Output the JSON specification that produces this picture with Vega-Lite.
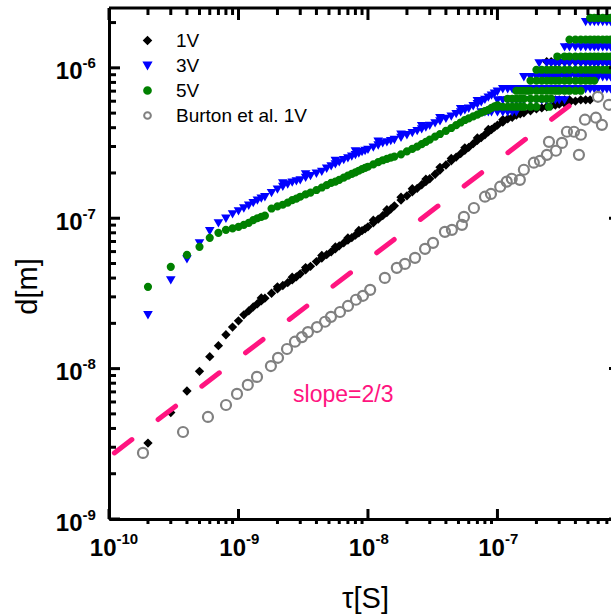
{
  "$schema": "https://vega.github.io/schema/vega-lite/v6.json",
  "width": 512,
  "height": 511,
  "autosize": {"type": "none"},
  "padding": {"left": 109, "top": 8, "right": -10, "bottom": 96},
  "background": "white",
  "config": {"view": {"stroke": null}, "font": "Liberation Sans"},
  "datasets": {
    "xmaj": [{"t":1e-10},{"t":1e-9},{"t":1e-8},{"t":1e-7}],
    "xmin": [{"t":2e-10},{"t":3e-10},{"t":4e-10},{"t":5e-10},{"t":6e-10},{"t":7e-10},{"t":8e-10},{"t":9e-10},
             {"t":2e-9},{"t":3e-9},{"t":4e-9},{"t":5e-9},{"t":6e-9},{"t":7e-9},{"t":8e-9},{"t":9e-9},
             {"t":2e-8},{"t":3e-8},{"t":4e-8},{"t":5e-8},{"t":6e-8},{"t":7e-8},{"t":8e-8},{"t":9e-8},
             {"t":2e-7},{"t":3e-7},{"t":4e-7},{"t":5e-7},{"t":6e-7},{"t":7e-7},{"t":8e-7}],
    "ymaj": [{"d":1e-9},{"d":1e-8},{"d":1e-7},{"d":1e-6}],
    "ymin": [{"d":2e-9},{"d":3e-9},{"d":4e-9},{"d":5e-9},{"d":6e-9},{"d":7e-9},{"d":8e-9},{"d":9e-9},
             {"d":2e-8},{"d":3e-8},{"d":4e-8},{"d":5e-8},{"d":6e-8},{"d":7e-8},{"d":8e-8},{"d":9e-8},
             {"d":2e-7},{"d":3e-7},{"d":4e-7},{"d":5e-7},{"d":6e-7},{"d":7e-7},{"d":8e-7},{"d":9e-7},{"d":2e-6}],
    "frame": [{"t":1e-10},{"t":9e-7}],
    "runs": [
      {"s":"1V","t":2e-10,"d":3.2e-9},{"s":"1V","t":3e-10,"d":5.1e-9},{"s":"1V","t":4e-10,"d":7.1e-9},{"s":"1V","t":5e-10,"d":9.6e-9},
      {"s":"1V","t":6e-10,"d":1.2e-8},{"s":"1V","t":7e-10,"d":1.42e-8},{"s":"1V","t":8e-10,"d":1.68e-8},{"s":"1V","t":9e-10,"d":1.89e-8},
      {"s":"1V","t":1e-9,"d":2.08e-8},{"s":"1V","t":1.1e-9,"d":2.28e-8},{"s":"1V","t":1.2e-9,"d":2.42e-8},
      {"s":"1V","t":1.3e-9,"d":2.57e-8},{"s":"1V","t":1.4e-9,"d":2.70e-8},{"s":"1V","t":1.5e-9,"d":2.82e-8},{"s":"1V","t":1.6e-9,"d":2.94e-8},
      {"s":"1V","t":1.8e-9,"d":3.17e-8},{"s":"1V","t":2.0e-9,"d":3.39e-8},{"s":"1V","t":2.2e-9,"d":3.57e-8},{"s":"1V","t":2.4e-9,"d":3.73e-8},
      {"s":"1V","t":2.6e-9,"d":3.89e-8},{"s":"1V","t":2.8e-9,"d":4.08e-8},{"s":"1V","t":3.0e-9,"d":4.27e-8},{"s":"1V","t":3.3e-9,"d":4.54e-8},
      {"s":"1V","t":3.6e-9,"d":4.79e-8},{"s":"1V","t":4.0e-9,"d":5.15e-8},{"s":"1V","t":4.4e-9,"d":5.44e-8},{"s":"1V","t":4.8e-9,"d":5.72e-8},
      {"s":"1V","t":5.2e-9,"d":5.98e-8},{"s":"1V","t":5.6e-9,"d":6.26e-8},{"s":"1V","t":6.0e-9,"d":6.55e-8},{"s":"1V","t":6.5e-9,"d":6.86e-8},
      {"s":"1V","t":7.0e-9,"d":7.15e-8},{"s":"1V","t":7.5e-9,"d":7.43e-8},{"s":"1V","t":8.0e-9,"d":7.72e-8},{"s":"1V","t":8.5e-9,"d":8.00e-8},
      {"s":"1V","t":9.0e-9,"d":8.26e-8},{"s":"1V","t":9.5e-9,"d":8.50e-8},{"s":"1V","t":1.0e-8,"d":8.77e-8},{"s":"1V","t":1.1e-8,"d":9.32e-8},
      {"s":"1V","t":1.2e-8,"d":9.86e-8},{"s":"1V","t":1.3e-8,"d":1.04e-7},{"s":"1V","t":1.4e-8,"d":1.09e-7},{"s":"1V","t":1.5e-8,"d":1.15e-7},
      {"s":"1V","t":1.6e-8,"d":1.21e-7},{"s":"1V","t":1.8e-8,"d":1.32e-7},{"s":"1V","t":2.0e-8,"d":1.41e-7},{"s":"1V","t":2.2e-8,"d":1.50e-7},
      {"s":"1V","t":2.4e-8,"d":1.58e-7},{"s":"1V","t":2.6e-8,"d":1.67e-7},{"s":"1V","t":2.8e-8,"d":1.75e-7},{"s":"1V","t":3.0e-8,"d":1.83e-7},
      {"s":"1V","t":3.3e-8,"d":1.96e-7},{"s":"1V","t":3.6e-8,"d":2.09e-7},{"s":"1V","t":4.0e-8,"d":2.26e-7},{"s":"1V","t":4.4e-8,"d":2.41e-7},
      {"s":"1V","t":4.8e-8,"d":2.55e-7},{"s":"1V","t":5.2e-8,"d":2.69e-7},{"s":"1V","t":5.6e-8,"d":2.83e-7},{"s":"1V","t":6.0e-8,"d":2.96e-7},
      {"s":"1V","t":6.5e-8,"d":3.13e-7},{"s":"1V","t":7.0e-8,"d":3.29e-7},{"s":"1V","t":7.5e-8,"d":3.44e-7},{"s":"1V","t":8.0e-8,"d":3.59e-7},
      {"s":"1V","t":8.5e-8,"d":3.75e-7},{"s":"1V","t":9.0e-8,"d":3.89e-7},{"s":"1V","t":9.5e-8,"d":4.03e-7},{"s":"1V","t":1.0e-7,"d":4.16e-7},
      {"s":"1V","t":1.1e-7,"d":4.36e-7},{"s":"1V","t":1.2e-7,"d":4.58e-7},{"s":"1V","t":1.3e-7,"d":4.69e-7},{"s":"1V","t":1.4e-7,"d":4.85e-7},
      {"s":"1V","t":1.5e-7,"d":4.95e-7},{"s":"1V","t":1.6e-7,"d":5.03e-7},{"s":"1V","t":1.8e-7,"d":5.18e-7},{"s":"1V","t":2.0e-7,"d":5.33e-7},
      {"s":"1V","t":2.2e-7,"d":5.41e-7},{"s":"1V","t":2.4e-7,"d":5.51e-7},{"s":"1V","t":2.6e-7,"d":5.58e-7},{"s":"1V","t":2.8e-7,"d":5.66e-7},
      {"s":"1V","t":3.0e-7,"d":5.73e-7},{"s":"1V","t":3.3e-7,"d":5.81e-7},{"s":"1V","t":3.6e-7,"d":5.89e-7},{"s":"1V","t":4.0e-7,"d":6.01e-7},
      {"s":"1V","t":4.4e-7,"d":6.13e-7},
      {"s":"1V","t":1.5e-9,"d":2.95e-8},{"s":"1V","t":2.0e-9,"d":3.50e-8},{"s":"1V","t":2.6e-9,"d":4.05e-8},{"s":"1V","t":3.3e-9,"d":4.70e-8},
      {"s":"1V","t":4.4e-9,"d":5.65e-8},{"s":"1V","t":5.6e-9,"d":6.45e-8},{"s":"1V","t":7.0e-9,"d":7.40e-8},{"s":"1V","t":8.5e-9,"d":8.30e-8},
      {"s":"1V","t":1.1e-8,"d":9.70e-8},{"s":"1V","t":1.4e-8,"d":1.14e-7},{"s":"1V","t":1.8e-8,"d":1.38e-7},{"s":"1V","t":2.2e-8,"d":1.57e-7},
      {"s":"1V","t":2.8e-8,"d":1.82e-7},{"s":"1V","t":3.6e-8,"d":2.18e-7},{"s":"1V","t":4.4e-8,"d":2.50e-7},{"s":"1V","t":5.6e-8,"d":2.94e-7},
      {"s":"1V","t":7.0e-8,"d":3.42e-7},{"s":"1V","t":8.5e-8,"d":3.90e-7},{"s":"1V","t":1.1e-7,"d":4.52e-7},{"s":"1V","t":1.4e-7,"d":5.02e-7},
      {"s":"1V","t":2.4e-7,"d":1.1e-6},{"s":"1V","t":2.6e-7,"d":1.1e-6},{"s":"1V","t":2.8e-7,"d":1.1e-6},{"s":"1V","t":3.0e-7,"d":1.1e-6},
      {"s":"1V","t":3.3e-7,"d":1.1e-6},{"s":"1V","t":3.6e-7,"d":1.1e-6},{"s":"1V","t":4.0e-7,"d":1.1e-6},{"s":"1V","t":4.4e-7,"d":1.1e-6},
      {"s":"1V","t":4.8e-7,"d":1.1e-6},{"s":"1V","t":5.2e-7,"d":1.1e-6},{"s":"1V","t":5.6e-7,"d":1.1e-6},{"s":"1V","t":6.0e-7,"d":1.1e-6},
      {"s":"1V","t":6.5e-7,"d":1.1e-6},{"s":"1V","t":7.0e-7,"d":1.1e-6},{"s":"1V","t":7.5e-7,"d":1.1e-6},{"s":"1V","t":8.0e-7,"d":1.1e-6},
      {"s":"1V","t":8.5e-7,"d":1.1e-6},{"s":"1V","t":9.0e-7,"d":1.1e-6},
      {"s":"1V","t":2.4e-7,"d":9.13e-7},{"s":"1V","t":2.6e-7,"d":9.13e-7},{"s":"1V","t":2.8e-7,"d":9.13e-7},{"s":"1V","t":3.0e-7,"d":9.13e-7},
      {"s":"1V","t":3.3e-7,"d":9.13e-7},{"s":"1V","t":3.6e-7,"d":9.13e-7},{"s":"1V","t":4.0e-7,"d":9.13e-7},{"s":"1V","t":4.4e-7,"d":9.13e-7},
      {"s":"1V","t":4.8e-7,"d":9.13e-7},{"s":"1V","t":5.2e-7,"d":9.13e-7},{"s":"1V","t":5.6e-7,"d":9.13e-7},{"s":"1V","t":6.0e-7,"d":9.13e-7},
      {"s":"1V","t":6.5e-7,"d":9.13e-7},{"s":"1V","t":7.0e-7,"d":9.13e-7},{"s":"1V","t":7.5e-7,"d":9.13e-7},{"s":"1V","t":8.0e-7,"d":9.13e-7},
      {"s":"1V","t":8.5e-7,"d":9.13e-7},{"s":"1V","t":9.0e-7,"d":9.13e-7},
      {"s":"1V","t":2.8e-7,"d":6.13e-7},{"s":"1V","t":3.0e-7,"d":6.13e-7},{"s":"1V","t":3.3e-7,"d":6.13e-7},{"s":"1V","t":3.6e-7,"d":6.13e-7},
      {"s":"1V","t":4.8e-7,"d":6.13e-7},{"s":"1V","t":5.2e-7,"d":6.13e-7},

      {"s":"3V","t":2e-10,"d":2.28e-8},{"s":"3V","t":3e-10,"d":3.89e-8},{"s":"3V","t":4e-10,"d":5.37e-8},{"s":"3V","t":5e-10,"d":6.86e-8},
      {"s":"3V","t":6e-10,"d":8.25e-8},{"s":"3V","t":7e-10,"d":9.32e-8},{"s":"3V","t":8e-10,"d":1.0e-7},{"s":"3V","t":9e-10,"d":1.07e-7},
      {"s":"3V","t":1e-9,"d":1.12e-7},{"s":"3V","t":1.1e-9,"d":1.17e-7},{"s":"3V","t":1.2e-9,"d":1.22e-7},
      {"s":"3V","t":1.3e-9,"d":1.27e-7},{"s":"3V","t":1.4e-9,"d":1.32e-7},{"s":"3V","t":1.5e-9,"d":1.36e-7},{"s":"3V","t":1.6e-9,"d":1.39e-7},
      {"s":"3V","t":1.8e-9,"d":1.48e-7},{"s":"3V","t":2.0e-9,"d":1.56e-7},{"s":"3V","t":2.2e-9,"d":1.63e-7},{"s":"3V","t":2.4e-9,"d":1.69e-7},
      {"s":"3V","t":2.6e-9,"d":1.74e-7},{"s":"3V","t":2.8e-9,"d":1.77e-7},{"s":"3V","t":3.0e-9,"d":1.80e-7},{"s":"3V","t":3.3e-9,"d":1.87e-7},
      {"s":"3V","t":3.6e-9,"d":1.92e-7},{"s":"3V","t":4.0e-9,"d":1.99e-7},{"s":"3V","t":4.4e-9,"d":2.05e-7},{"s":"3V","t":4.8e-9,"d":2.15e-7},
      {"s":"3V","t":5.2e-9,"d":2.23e-7},{"s":"3V","t":5.6e-9,"d":2.30e-7},{"s":"3V","t":6.0e-9,"d":2.37e-7},{"s":"3V","t":6.5e-9,"d":2.45e-7},
      {"s":"3V","t":7.0e-9,"d":2.52e-7},{"s":"3V","t":7.5e-9,"d":2.59e-7},{"s":"3V","t":8.0e-9,"d":2.65e-7},{"s":"3V","t":8.5e-9,"d":2.71e-7},
      {"s":"3V","t":9.0e-9,"d":2.77e-7},{"s":"3V","t":9.5e-9,"d":2.82e-7},{"s":"3V","t":1.0e-8,"d":2.87e-7},{"s":"3V","t":1.1e-8,"d":2.97e-7},
      {"s":"3V","t":1.2e-8,"d":3.07e-7},{"s":"3V","t":1.3e-8,"d":3.17e-7},{"s":"3V","t":1.4e-8,"d":3.22e-7},{"s":"3V","t":1.5e-8,"d":3.28e-7},
      {"s":"3V","t":1.6e-8,"d":3.34e-7},{"s":"3V","t":1.8e-8,"d":3.45e-7},{"s":"3V","t":2.0e-8,"d":3.59e-7},{"s":"3V","t":2.2e-8,"d":3.71e-7},
      {"s":"3V","t":2.4e-8,"d":3.82e-7},{"s":"3V","t":2.6e-8,"d":3.93e-7},{"s":"3V","t":2.8e-8,"d":4.04e-7},{"s":"3V","t":3.0e-8,"d":4.14e-7},
      {"s":"3V","t":3.3e-8,"d":4.31e-7},{"s":"3V","t":3.6e-8,"d":4.44e-7},{"s":"3V","t":4.0e-8,"d":4.61e-7},{"s":"3V","t":4.4e-8,"d":4.77e-7},
      {"s":"3V","t":4.8e-8,"d":4.96e-7},{"s":"3V","t":5.2e-8,"d":5.10e-7},{"s":"3V","t":5.6e-8,"d":5.26e-7},{"s":"3V","t":6.0e-8,"d":5.39e-7},
      {"s":"3V","t":6.5e-8,"d":5.60e-7},{"s":"3V","t":7.0e-8,"d":5.77e-7},{"s":"3V","t":7.5e-8,"d":5.95e-7},{"s":"3V","t":8.0e-8,"d":6.17e-7},
      {"s":"3V","t":8.5e-8,"d":6.38e-7},{"s":"3V","t":9.0e-8,"d":6.58e-7},{"s":"3V","t":9.5e-8,"d":6.78e-7},{"s":"3V","t":1.0e-7,"d":6.99e-7},
      {"s":"3V","t":2.2e-9,"d":1.72e-7},{"s":"3V","t":3.3e-9,"d":1.97e-7},{"s":"3V","t":5.6e-9,"d":2.42e-7},{"s":"3V","t":8.0e-9,"d":2.80e-7},
      {"s":"3V","t":1.2e-8,"d":3.25e-7},{"s":"3V","t":1.8e-8,"d":3.62e-7},{"s":"3V","t":2.6e-8,"d":4.12e-7},{"s":"3V","t":3.6e-8,"d":4.66e-7},
      {"s":"3V","t":5.2e-8,"d":5.35e-7},{"s":"3V","t":7.0e-8,"d":6.05e-7},
      {"s":"3V","t":4.8e-7,"d":2.03e-6},{"s":"3V","t":5.2e-7,"d":2.03e-6},{"s":"3V","t":5.6e-7,"d":2.03e-6},{"s":"3V","t":6.0e-7,"d":2.03e-6},
      {"s":"3V","t":6.5e-7,"d":2.03e-6},{"s":"3V","t":7.0e-7,"d":2.03e-6},{"s":"3V","t":7.5e-7,"d":2.03e-6},{"s":"3V","t":8.0e-7,"d":2.03e-6},
      {"s":"3V","t":8.5e-7,"d":2.03e-6},{"s":"3V","t":9.0e-7,"d":2.03e-6},
      {"s":"3V","t":3.3e-7,"d":1.38e-6},{"s":"3V","t":3.6e-7,"d":1.38e-6},{"s":"3V","t":4.0e-7,"d":1.38e-6},{"s":"3V","t":4.4e-7,"d":1.38e-6},
      {"s":"3V","t":4.8e-7,"d":1.38e-6},{"s":"3V","t":5.2e-7,"d":1.38e-6},{"s":"3V","t":5.6e-7,"d":1.38e-6},{"s":"3V","t":6.0e-7,"d":1.38e-6},
      {"s":"3V","t":6.5e-7,"d":1.38e-6},{"s":"3V","t":7.0e-7,"d":1.38e-6},{"s":"3V","t":7.5e-7,"d":1.38e-6},{"s":"3V","t":8.0e-7,"d":1.38e-6},
      {"s":"3V","t":8.5e-7,"d":1.38e-6},{"s":"3V","t":9.0e-7,"d":1.38e-6},
      {"s":"3V","t":2.1e-7,"d":1.08e-6},{"s":"3V","t":2.4e-7,"d":1.08e-6},{"s":"3V","t":2.6e-7,"d":1.08e-6},{"s":"3V","t":2.8e-7,"d":1.08e-6},
      {"s":"3V","t":3.0e-7,"d":1.08e-6},{"s":"3V","t":3.3e-7,"d":1.08e-6},{"s":"3V","t":3.6e-7,"d":1.08e-6},{"s":"3V","t":4.0e-7,"d":1.08e-6},
      {"s":"3V","t":4.4e-7,"d":1.08e-6},{"s":"3V","t":4.8e-7,"d":1.08e-6},{"s":"3V","t":5.2e-7,"d":1.08e-6},{"s":"3V","t":5.6e-7,"d":1.08e-6},
      {"s":"3V","t":6.0e-7,"d":1.08e-6},{"s":"3V","t":6.5e-7,"d":1.08e-6},{"s":"3V","t":7.0e-7,"d":1.08e-6},{"s":"3V","t":7.5e-7,"d":1.08e-6},
      {"s":"3V","t":8.0e-7,"d":1.08e-6},{"s":"3V","t":8.5e-7,"d":1.08e-6},{"s":"3V","t":9.0e-7,"d":1.08e-6},
      {"s":"3V","t":1.6e-7,"d":8.73e-7},{"s":"3V","t":1.8e-7,"d":8.73e-7},{"s":"3V","t":2.0e-7,"d":8.73e-7},{"s":"3V","t":2.2e-7,"d":8.73e-7},
      {"s":"3V","t":2.4e-7,"d":8.73e-7},{"s":"3V","t":2.6e-7,"d":8.73e-7},{"s":"3V","t":2.8e-7,"d":8.73e-7},{"s":"3V","t":3.0e-7,"d":8.73e-7},
      {"s":"3V","t":3.3e-7,"d":8.73e-7},{"s":"3V","t":3.6e-7,"d":8.73e-7},{"s":"3V","t":4.0e-7,"d":8.73e-7},{"s":"3V","t":4.4e-7,"d":8.73e-7},
      {"s":"3V","t":4.8e-7,"d":8.73e-7},{"s":"3V","t":5.2e-7,"d":8.73e-7},{"s":"3V","t":5.6e-7,"d":8.73e-7},{"s":"3V","t":6.0e-7,"d":8.73e-7},
      {"s":"3V","t":6.5e-7,"d":8.73e-7},{"s":"3V","t":7.0e-7,"d":8.73e-7},{"s":"3V","t":7.5e-7,"d":8.73e-7},{"s":"3V","t":8.0e-7,"d":8.73e-7},
      {"s":"3V","t":8.5e-7,"d":8.73e-7},{"s":"3V","t":9.0e-7,"d":8.73e-7},
      {"s":"3V","t":1.1e-7,"d":7.26e-7},{"s":"3V","t":1.2e-7,"d":7.26e-7},{"s":"3V","t":1.3e-7,"d":7.26e-7},{"s":"3V","t":1.4e-7,"d":7.26e-7},
      {"s":"3V","t":1.5e-7,"d":7.26e-7},{"s":"3V","t":1.6e-7,"d":7.26e-7},{"s":"3V","t":1.8e-7,"d":7.26e-7},{"s":"3V","t":2.0e-7,"d":7.26e-7},
      {"s":"3V","t":2.2e-7,"d":7.26e-7},{"s":"3V","t":2.4e-7,"d":7.26e-7},{"s":"3V","t":2.6e-7,"d":7.26e-7},{"s":"3V","t":2.8e-7,"d":7.26e-7},
      {"s":"3V","t":3.0e-7,"d":7.26e-7},{"s":"3V","t":3.3e-7,"d":7.26e-7},{"s":"3V","t":3.6e-7,"d":7.26e-7},{"s":"3V","t":4.0e-7,"d":7.26e-7},
      {"s":"3V","t":4.4e-7,"d":7.26e-7},{"s":"3V","t":4.8e-7,"d":7.26e-7},{"s":"3V","t":5.2e-7,"d":7.26e-7},{"s":"3V","t":5.6e-7,"d":7.26e-7},
      {"s":"3V","t":6.0e-7,"d":7.26e-7},{"s":"3V","t":6.5e-7,"d":7.26e-7},{"s":"3V","t":7.0e-7,"d":7.26e-7},{"s":"3V","t":7.5e-7,"d":7.26e-7},
      {"s":"3V","t":8.0e-7,"d":7.26e-7},{"s":"3V","t":8.5e-7,"d":7.26e-7},{"s":"3V","t":9.0e-7,"d":7.26e-7},
      {"s":"3V","t":1.0e-7,"d":6.13e-7},{"s":"3V","t":1.1e-7,"d":6.13e-7},{"s":"3V","t":1.2e-7,"d":6.13e-7},{"s":"3V","t":1.3e-7,"d":6.13e-7},
      {"s":"3V","t":1.4e-7,"d":6.13e-7},{"s":"3V","t":1.5e-7,"d":6.13e-7},{"s":"3V","t":1.6e-7,"d":6.13e-7},{"s":"3V","t":1.8e-7,"d":6.13e-7},
      {"s":"3V","t":2.0e-7,"d":6.13e-7},{"s":"3V","t":2.2e-7,"d":6.13e-7},{"s":"3V","t":2.4e-7,"d":6.13e-7},{"s":"3V","t":2.6e-7,"d":6.13e-7},
      {"s":"3V","t":2.8e-7,"d":6.13e-7},{"s":"3V","t":3.0e-7,"d":6.13e-7},{"s":"3V","t":3.3e-7,"d":6.13e-7},
      {"s":"3V","t":7.5e-8,"d":5.1e-7},{"s":"3V","t":8.0e-8,"d":5.1e-7},{"s":"3V","t":8.5e-8,"d":5.1e-7},{"s":"3V","t":9.0e-8,"d":5.1e-7},
      {"s":"3V","t":1.0e-7,"d":5.1e-7},{"s":"3V","t":1.1e-7,"d":5.1e-7},{"s":"3V","t":1.2e-7,"d":5.1e-7},{"s":"3V","t":1.3e-7,"d":5.1e-7},
      {"s":"3V","t":1.4e-7,"d":5.1e-7},

      {"s":"5V","t":2e-10,"d":3.5e-8},{"s":"5V","t":3e-10,"d":4.75e-8},{"s":"5V","t":4e-10,"d":5.71e-8},{"s":"5V","t":5e-10,"d":6.45e-8},
      {"s":"5V","t":6e-10,"d":7.41e-8},{"s":"5V","t":7e-10,"d":8.0e-8},{"s":"5V","t":8e-10,"d":8.37e-8},{"s":"5V","t":9e-10,"d":8.57e-8},
      {"s":"5V","t":1e-9,"d":8.77e-8},{"s":"5V","t":1.1e-9,"d":9.04e-8},{"s":"5V","t":1.2e-9,"d":9.32e-8},
      {"s":"5V","t":1.3e-9,"d":9.71e-8},{"s":"5V","t":1.4e-9,"d":1.0e-7},{"s":"5V","t":1.5e-9,"d":1.02e-7},{"s":"5V","t":1.6e-9,"d":1.04e-7},
      {"s":"5V","t":1.8e-9,"d":1.16e-7},{"s":"5V","t":2.0e-9,"d":1.20e-7},{"s":"5V","t":2.2e-9,"d":1.23e-7},{"s":"5V","t":2.4e-9,"d":1.27e-7},
      {"s":"5V","t":2.6e-9,"d":1.32e-7},{"s":"5V","t":2.8e-9,"d":1.35e-7},{"s":"5V","t":3.0e-9,"d":1.39e-7},{"s":"5V","t":3.3e-9,"d":1.44e-7},
      {"s":"5V","t":3.6e-9,"d":1.48e-7},{"s":"5V","t":4.0e-9,"d":1.54e-7},{"s":"5V","t":4.4e-9,"d":1.60e-7},{"s":"5V","t":4.8e-9,"d":1.66e-7},
      {"s":"5V","t":5.2e-9,"d":1.72e-7},{"s":"5V","t":5.6e-9,"d":1.75e-7},{"s":"5V","t":6.0e-9,"d":1.80e-7},{"s":"5V","t":6.5e-9,"d":1.86e-7},
      {"s":"5V","t":7.0e-9,"d":1.92e-7},{"s":"5V","t":7.5e-9,"d":1.97e-7},{"s":"5V","t":8.0e-9,"d":2.02e-7},{"s":"5V","t":8.5e-9,"d":2.07e-7},
      {"s":"5V","t":9.0e-9,"d":2.12e-7},{"s":"5V","t":9.5e-9,"d":2.16e-7},{"s":"5V","t":1.0e-8,"d":2.20e-7},{"s":"5V","t":1.1e-8,"d":2.28e-7},
      {"s":"5V","t":1.2e-8,"d":2.36e-7},{"s":"5V","t":1.3e-8,"d":2.43e-7},{"s":"5V","t":1.4e-8,"d":2.48e-7},{"s":"5V","t":1.5e-8,"d":2.53e-7},
      {"s":"5V","t":1.6e-8,"d":2.57e-7},{"s":"5V","t":1.8e-8,"d":2.66e-7},{"s":"5V","t":2.0e-8,"d":2.78e-7},{"s":"5V","t":2.2e-8,"d":2.89e-7},
      {"s":"5V","t":2.4e-8,"d":2.99e-7},{"s":"5V","t":2.6e-8,"d":3.11e-7},{"s":"5V","t":2.8e-8,"d":3.22e-7},{"s":"5V","t":3.0e-8,"d":3.33e-7},
      {"s":"5V","t":3.3e-8,"d":3.49e-7},{"s":"5V","t":3.6e-8,"d":3.63e-7},{"s":"5V","t":4.0e-8,"d":3.81e-7},{"s":"5V","t":4.4e-8,"d":3.98e-7},
      {"s":"5V","t":4.8e-8,"d":4.16e-7},{"s":"5V","t":5.2e-8,"d":4.33e-7},{"s":"5V","t":5.6e-8,"d":4.50e-7},{"s":"5V","t":6.0e-8,"d":4.61e-7},
      {"s":"5V","t":6.5e-8,"d":4.76e-7},{"s":"5V","t":7.0e-8,"d":4.89e-7},{"s":"5V","t":7.5e-8,"d":5.03e-7},{"s":"5V","t":8.0e-8,"d":5.15e-7},
      {"s":"5V","t":8.5e-8,"d":5.26e-7},{"s":"5V","t":9.0e-8,"d":5.42e-7},{"s":"5V","t":9.5e-8,"d":5.54e-7},{"s":"5V","t":1.0e-7,"d":5.64e-7},
      {"s":"5V","t":5.2e-7,"d":2.15e-6},{"s":"5V","t":5.6e-7,"d":2.15e-6},{"s":"5V","t":6.0e-7,"d":2.15e-6},{"s":"5V","t":6.5e-7,"d":2.15e-6},
      {"s":"5V","t":7.0e-7,"d":2.15e-6},{"s":"5V","t":7.5e-7,"d":2.15e-6},{"s":"5V","t":8.0e-7,"d":2.15e-6},{"s":"5V","t":8.5e-7,"d":2.15e-6},
      {"s":"5V","t":9.0e-7,"d":2.15e-6},
      {"s":"5V","t":3.6e-7,"d":1.54e-6},{"s":"5V","t":4.0e-7,"d":1.54e-6},{"s":"5V","t":4.4e-7,"d":1.54e-6},{"s":"5V","t":4.8e-7,"d":1.54e-6},
      {"s":"5V","t":5.2e-7,"d":1.54e-6},{"s":"5V","t":5.6e-7,"d":1.54e-6},{"s":"5V","t":6.0e-7,"d":1.54e-6},{"s":"5V","t":6.5e-7,"d":1.54e-6},
      {"s":"5V","t":7.0e-7,"d":1.54e-6},{"s":"5V","t":7.5e-7,"d":1.54e-6},{"s":"5V","t":8.0e-7,"d":1.54e-6},{"s":"5V","t":8.5e-7,"d":1.54e-6},
      {"s":"5V","t":9.0e-7,"d":1.54e-6},
      {"s":"5V","t":2.9e-7,"d":1.19e-6},{"s":"5V","t":3.3e-7,"d":1.19e-6},{"s":"5V","t":3.6e-7,"d":1.19e-6},{"s":"5V","t":4.0e-7,"d":1.19e-6},
      {"s":"5V","t":4.4e-7,"d":1.19e-6},{"s":"5V","t":4.8e-7,"d":1.19e-6},{"s":"5V","t":5.2e-7,"d":1.19e-6},{"s":"5V","t":5.6e-7,"d":1.19e-6},
      {"s":"5V","t":6.0e-7,"d":1.19e-6},{"s":"5V","t":6.5e-7,"d":1.19e-6},{"s":"5V","t":7.0e-7,"d":1.19e-6},{"s":"5V","t":7.5e-7,"d":1.19e-6},
      {"s":"5V","t":8.0e-7,"d":1.19e-6},{"s":"5V","t":8.5e-7,"d":1.19e-6},{"s":"5V","t":9.0e-7,"d":1.19e-6},
      {"s":"5V","t":2.0e-7,"d":9.71e-7},{"s":"5V","t":2.2e-7,"d":9.71e-7},{"s":"5V","t":2.4e-7,"d":9.71e-7},{"s":"5V","t":2.6e-7,"d":9.71e-7},
      {"s":"5V","t":2.8e-7,"d":9.71e-7},{"s":"5V","t":3.0e-7,"d":9.71e-7},{"s":"5V","t":3.3e-7,"d":9.71e-7},{"s":"5V","t":3.6e-7,"d":9.71e-7},
      {"s":"5V","t":4.0e-7,"d":9.71e-7},{"s":"5V","t":4.4e-7,"d":9.71e-7},{"s":"5V","t":4.8e-7,"d":9.71e-7},{"s":"5V","t":5.2e-7,"d":9.71e-7},
      {"s":"5V","t":5.6e-7,"d":9.71e-7},{"s":"5V","t":6.0e-7,"d":9.71e-7},{"s":"5V","t":6.5e-7,"d":9.71e-7},{"s":"5V","t":7.0e-7,"d":9.71e-7},
      {"s":"5V","t":7.5e-7,"d":9.71e-7},{"s":"5V","t":8.0e-7,"d":9.71e-7},{"s":"5V","t":8.5e-7,"d":9.71e-7},{"s":"5V","t":9.0e-7,"d":9.71e-7},
      {"s":"5V","t":1.8e-7,"d":8.21e-7},{"s":"5V","t":2.0e-7,"d":8.21e-7},{"s":"5V","t":2.2e-7,"d":8.21e-7},{"s":"5V","t":2.4e-7,"d":8.21e-7},
      {"s":"5V","t":2.6e-7,"d":8.21e-7},{"s":"5V","t":2.8e-7,"d":8.21e-7},{"s":"5V","t":3.0e-7,"d":8.21e-7},{"s":"5V","t":3.3e-7,"d":8.21e-7},
      {"s":"5V","t":3.6e-7,"d":8.21e-7},{"s":"5V","t":4.0e-7,"d":8.21e-7},{"s":"5V","t":4.4e-7,"d":8.21e-7},{"s":"5V","t":4.8e-7,"d":8.21e-7},
      {"s":"5V","t":5.2e-7,"d":8.21e-7},{"s":"5V","t":5.6e-7,"d":8.21e-7},
      {"s":"5V","t":1.4e-7,"d":7.04e-7},{"s":"5V","t":1.5e-7,"d":7.04e-7},{"s":"5V","t":1.6e-7,"d":7.04e-7},{"s":"5V","t":1.7e-7,"d":7.04e-7},
      {"s":"5V","t":1.8e-7,"d":7.04e-7},{"s":"5V","t":2.0e-7,"d":7.04e-7},{"s":"5V","t":2.2e-7,"d":7.04e-7},{"s":"5V","t":2.4e-7,"d":7.04e-7},
      {"s":"5V","t":2.6e-7,"d":7.04e-7},{"s":"5V","t":2.8e-7,"d":7.04e-7},{"s":"5V","t":3.0e-7,"d":7.04e-7},{"s":"5V","t":3.3e-7,"d":7.04e-7},
      {"s":"5V","t":3.6e-7,"d":7.04e-7},{"s":"5V","t":4.0e-7,"d":7.04e-7},{"s":"5V","t":4.4e-7,"d":7.04e-7},
      {"s":"5V","t":1.2e-7,"d":6.23e-7},{"s":"5V","t":1.3e-7,"d":6.23e-7},{"s":"5V","t":1.4e-7,"d":6.23e-7},{"s":"5V","t":1.5e-7,"d":6.23e-7},
      {"s":"5V","t":1.6e-7,"d":6.23e-7},{"s":"5V","t":1.8e-7,"d":6.23e-7},{"s":"5V","t":2.0e-7,"d":6.23e-7},{"s":"5V","t":2.2e-7,"d":6.23e-7},
      {"s":"5V","t":2.4e-7,"d":6.23e-7},{"s":"5V","t":2.6e-7,"d":6.23e-7},
      {"s":"5V","t":1.0e-7,"d":5.51e-7},{"s":"5V","t":1.1e-7,"d":5.51e-7},{"s":"5V","t":1.2e-7,"d":5.51e-7},{"s":"5V","t":1.3e-7,"d":5.51e-7},
      {"s":"5V","t":1.4e-7,"d":5.51e-7},{"s":"5V","t":1.5e-7,"d":5.51e-7},{"s":"5V","t":1.6e-7,"d":5.51e-7},{"s":"5V","t":1.8e-7,"d":5.51e-7},
      {"s":"5V","t":2.0e-7,"d":5.51e-7},{"s":"5V","t":2.5e-7,"d":5.51e-7}
    ],
    "burton": [
      {"s":"Burton et al. 1V","t":1.83e-10,"d":2.75e-9},{"s":"Burton et al. 1V","t":3.73e-10,"d":3.79e-9},
      {"s":"Burton et al. 1V","t":5.81e-10,"d":4.77e-9},{"s":"Burton et al. 1V","t":8.01e-10,"d":5.73e-9},
      {"s":"Burton et al. 1V","t":9.74e-10,"d":6.79e-9},{"s":"Burton et al. 1V","t":1.18e-9,"d":7.79e-9},
      {"s":"Burton et al. 1V","t":1.39e-9,"d":8.81e-9},{"s":"Burton et al. 1V","t":1.78e-9,"d":1.04e-8},
      {"s":"Burton et al. 1V","t":2.02e-9,"d":1.18e-8},{"s":"Burton et al. 1V","t":2.37e-9,"d":1.35e-8},
      {"s":"Burton et al. 1V","t":2.73e-9,"d":1.51e-8},{"s":"Burton et al. 1V","t":3.09e-9,"d":1.62e-8},
      {"s":"Burton et al. 1V","t":3.44e-9,"d":1.75e-8},{"s":"Burton et al. 1V","t":4.04e-9,"d":1.89e-8},
      {"s":"Burton et al. 1V","t":4.66e-9,"d":2.05e-8},{"s":"Burton et al. 1V","t":5.18e-9,"d":2.21e-8},
      {"s":"Burton et al. 1V","t":6.08e-9,"d":2.38e-8},{"s":"Burton et al. 1V","t":7.01e-9,"d":2.61e-8},
      {"s":"Burton et al. 1V","t":8.08e-9,"d":2.87e-8},{"s":"Burton et al. 1V","t":9.15e-9,"d":3.05e-8},
      {"s":"Burton et al. 1V","t":1.04e-8,"d":3.34e-8},{"s":"Burton et al. 1V","t":1.35e-8,"d":4.01e-8},
      {"s":"Burton et al. 1V","t":1.67e-8,"d":4.68e-8},{"s":"Burton et al. 1V","t":1.93e-8,"d":4.97e-8},
      {"s":"Burton et al. 1V","t":2.31e-8,"d":5.45e-8},{"s":"Burton et al. 1V","t":2.76e-8,"d":6.26e-8},
      {"s":"Burton et al. 1V","t":3.18e-8,"d":6.86e-8},{"s":"Burton et al. 1V","t":3.93e-8,"d":8.12e-8},
      {"s":"Burton et al. 1V","t":4.45e-8,"d":8.37e-8},{"s":"Burton et al. 1V","t":5.32e-8,"d":9.04e-8},
      {"s":"Burton et al. 1V","t":5.51e-8,"d":1.02e-7},{"s":"Burton et al. 1V","t":6.58e-8,"d":1.17e-7},
      {"s":"Burton et al. 1V","t":8.01e-8,"d":1.39e-7},{"s":"Burton et al. 1V","t":8.91e-8,"d":1.45e-7},
      {"s":"Burton et al. 1V","t":1.05e-7,"d":1.62e-7},{"s":"Burton et al. 1V","t":1.18e-7,"d":1.75e-7},
      {"s":"Burton et al. 1V","t":1.29e-7,"d":1.83e-7},{"s":"Burton et al. 1V","t":1.49e-7,"d":1.80e-7},
      {"s":"Burton et al. 1V","t":1.60e-7,"d":2.10e-7},{"s":"Burton et al. 1V","t":1.91e-7,"d":2.34e-7},
      {"s":"Burton et al. 1V","t":2.13e-7,"d":2.41e-7},{"s":"Burton et al. 1V","t":2.41e-7,"d":2.64e-7},
      {"s":"Burton et al. 1V","t":2.50e-7,"d":3.22e-7},{"s":"Burton et al. 1V","t":2.83e-7,"d":2.81e-7},
      {"s":"Burton et al. 1V","t":3.15e-7,"d":3.17e-7},{"s":"Burton et al. 1V","t":3.44e-7,"d":3.76e-7},
      {"s":"Burton et al. 1V","t":3.90e-7,"d":3.76e-7},{"s":"Burton et al. 1V","t":4.26e-7,"d":2.64e-7},
      {"s":"Burton et al. 1V","t":4.41e-7,"d":3.59e-7},{"s":"Burton et al. 1V","t":4.74e-7,"d":4.52e-7},
      {"s":"Burton et al. 1V","t":5.76e-7,"d":4.66e-7},{"s":"Burton et al. 1V","t":6.41e-7,"d":4.18e-7},
      {"s":"Burton et al. 1V","t":5.97e-7,"d":6.42e-7},{"s":"Burton et al. 1V","t":7.26e-7,"d":5.68e-7}
    ]
  },
  "layer": [
    {
      "data": {"name": "runs"},
      "transform": [{"filter": "datum.s == '1V'"}],
      "mark": {"type": "point", "strokeWidth": 2, "opacity": 1, "size": 42, "clip": true},
      "encoding": {
        "x": {
          "field": "t", "type": "quantitative",
          "scale": {"type": "log", "domain": [1e-10, 9e-7], "nice": false},
          "axis": {
            "orient": "bottom", "grid": false, "ticks": false, "tickSize": 0,
            "values": [1e-10, 1e-9, 1e-8, 1e-7],
            "labelExpr": "'10'", "labelAlign": "right", "labelBaseline": "alphabetic", "labelOffset": 7, "labelPadding": 36,
            "labelFont": "Liberation Sans", "labelFontSize": 24, "labelFontWeight": "bold", "labelColor": "black",
            "domainColor": "black", "domainWidth": 3,
            "title": "τ[S]", "titleFont": "Liberation Sans", "titleFontSize": 29, "titleFontWeight": "normal", "titleColor": "black",
            "titleBaseline": "alphabetic", "titleY": 88
          }
        },
        "y": {
          "field": "d", "type": "quantitative",
          "scale": {"type": "log", "domain": [1e-9, 2.5e-6], "nice": false},
          "axis": {
            "orient": "left", "grid": false, "ticks": false, "tickSize": 0,
            "values": [1e-9, 1e-8, 1e-7, 1e-6],
            "labelExpr": "'10'", "labelAlign": "right", "labelBaseline": "alphabetic", "labelOffset": 11, "labelPadding": 27,
            "labelFont": "Liberation Sans", "labelFontSize": 24, "labelFontWeight": "bold", "labelColor": "black",
            "domainColor": "black", "domainWidth": 3,
            "title": "d[m]", "titleFont": "Liberation Sans", "titleFontSize": 29, "titleFontWeight": "normal", "titleColor": "black",
            "titleX": -67, "titleY": 278, "titleBaseline": "bottom", "titleAlign": "center", "titleAngle": 270
          }
        },
        "shape": {
          "field": "s", "type": "nominal",
          "scale": {"domain": ["1V", "3V", "5V", "Burton et al. 1V"], "range": ["diamond", "triangle-down", "circle", "circle"]},
          "legend": {
            "title": null, "orient": "none", "legendX": 29, "legendY": 23,
            "labelFont": "Liberation Sans", "labelFontSize": 19, "labelColor": "black", "labelLimit": 300,
            "labelOffset": 19, "rowPadding": 5, "symbolStrokeWidth": 2, "symbolSize": 45, "padding": 0
          }
        },
        "fill": {
          "field": "s", "type": "nominal",
          "scale": {"domain": ["1V", "3V", "5V", "Burton et al. 1V"], "range": ["#000000", "#0000ff", "#008000", "transparent"]}
        },
        "stroke": {
          "field": "s", "type": "nominal",
          "scale": {"domain": ["1V", "3V", "5V", "Burton et al. 1V"], "range": ["#000000", "#0000ff", "#008000", "#808080"]}
        }
      }
    },
    {
      "data": {"name": "runs"},
      "transform": [{"filter": "datum.s != '1V'"}],
      "mark": {"type": "point", "strokeWidth": 2, "opacity": 1, "size": 38, "clip": true},
      "encoding": {
        "x": {
          "field": "t", "type": "quantitative",
          "axis": {
            "orient": "bottom", "grid": false, "domain": false, "ticks": false, "tickSize": 0, "title": null,
            "values": [1e-10, 1e-9, 1e-8, 1e-7],
            "labelExpr": "'-' + (-round(log(datum.value)/LN10))", "labelAlign": "left", "labelBaseline": "alphabetic", "labelOffset": 7, "labelPadding": 24,
            "labelFont": "Liberation Sans", "labelFontSize": 15, "labelFontWeight": "bold", "labelColor": "black"
          }
        },
        "y": {
          "field": "d", "type": "quantitative",
          "axis": {
            "orient": "left", "grid": false, "domain": false, "ticks": false, "tickSize": 0, "title": null,
            "values": [1e-9, 1e-8, 1e-7, 1e-6],
            "labelExpr": "'-' + (-round(log(datum.value)/LN10))", "labelAlign": "left", "labelBaseline": "alphabetic", "labelOffset": 0, "labelPadding": 27,
            "labelFont": "Liberation Sans", "labelFontSize": 15, "labelFontWeight": "bold", "labelColor": "black"
          }
        },
        "shape": {"field": "s", "type": "nominal"},
        "fill": {"field": "s", "type": "nominal"},
        "stroke": {"field": "s", "type": "nominal"}
      }
    },
    {
      "data": {"name": "burton"},
      "mark": {"type": "point", "strokeWidth": 2.2, "opacity": 1, "size": 100, "clip": true},
      "encoding": {
        "x": {"field": "t", "type": "quantitative", "axis": null},
        "y": {"field": "d", "type": "quantitative", "axis": null},
        "shape": {"field": "s", "type": "nominal"},
        "fill": {"field": "s", "type": "nominal"},
        "stroke": {"field": "s", "type": "nominal"}
      }
    },
    {
      "data": {"values": [{"t": 1.1e-10, "d": 2.75e-9}, {"t": 4.2e-7, "d": 6.2e-7}]},
      "mark": {"type": "line", "color": "#ff1480", "strokeWidth": 5, "strokeDash": [22, 33], "strokeCap": "round"},
      "encoding": {
        "x": {"field": "t", "type": "quantitative", "axis": null},
        "y": {"field": "d", "type": "quantitative", "axis": null}
      }
    },
    {
      "data": {"values": [{"t": 2.64e-9, "d": 6.0e-9, "note": "slope=2/3"}]},
      "mark": {"type": "text", "align": "left", "baseline": "alphabetic", "font": "Liberation Sans", "fontSize": 23, "color": "#ff1480"},
      "encoding": {
        "x": {"field": "t", "type": "quantitative", "axis": null},
        "y": {"field": "d", "type": "quantitative", "axis": null},
        "text": {"field": "note"}
      }
    },
    {
      "data": {"name": "frame"},
      "mark": {"type": "line", "color": "black", "strokeWidth": 3},
      "encoding": {
        "x": {"field": "t", "type": "quantitative", "axis": null},
        "y": {"datum": 2.5e-6, "type": "quantitative", "axis": null}
      }
    },
    {
      "data": {"name": "xmaj"},
      "mark": {"type": "point", "shape": "M0,0L0,-2", "size": 100, "filled": false, "stroke": "black", "strokeWidth": 3, "opacity": 1},
      "encoding": {
        "x": {"field": "t", "type": "quantitative", "axis": null},
        "y": {"datum": 1e-9, "type": "quantitative", "axis": null}
      }
    },
    {
      "data": {"name": "xmin"},
      "mark": {"type": "point", "shape": "M0,0L0,2", "size": 25, "filled": false, "stroke": "black", "strokeWidth": 3, "opacity": 1},
      "encoding": {
        "x": {"field": "t", "type": "quantitative", "axis": null},
        "y": {"datum": 1e-9, "type": "quantitative", "axis": null}
      }
    },
    {
      "data": {"name": "xmaj"},
      "mark": {"type": "point", "shape": "M0,0L0,2", "size": 144, "filled": false, "stroke": "black", "strokeWidth": 3, "opacity": 1},
      "encoding": {
        "x": {"field": "t", "type": "quantitative", "axis": null},
        "y": {"datum": 2.5e-6, "type": "quantitative", "axis": null}
      }
    },
    {
      "data": {"name": "xmin"},
      "mark": {"type": "point", "shape": "M0,0L0,2", "size": 49, "filled": false, "stroke": "black", "strokeWidth": 3, "opacity": 1},
      "encoding": {
        "x": {"field": "t", "type": "quantitative", "axis": null},
        "y": {"datum": 2.5e-6, "type": "quantitative", "axis": null}
      }
    },
    {
      "data": {"name": "ymaj"},
      "mark": {"type": "point", "shape": "M0,0L2,0", "size": 121, "filled": false, "stroke": "black", "strokeWidth": 3, "opacity": 1},
      "encoding": {
        "y": {"field": "d", "type": "quantitative", "axis": null},
        "x": {"datum": 1e-10, "type": "quantitative", "axis": null}
      }
    },
    {
      "data": {"name": "ymin"},
      "mark": {"type": "point", "shape": "M0,0L2,0", "size": 49, "filled": false, "stroke": "black", "strokeWidth": 3, "opacity": 1},
      "encoding": {
        "y": {"field": "d", "type": "quantitative", "axis": null},
        "x": {"datum": 1e-10, "type": "quantitative", "axis": null}
      }
    },
    {
      "data": {"name": "ymaj"},
      "mark": {"type": "point", "shape": "M0,0L-2,0", "size": 144, "filled": false, "stroke": "black", "strokeWidth": 3, "opacity": 1},
      "encoding": {
        "y": {"field": "d", "type": "quantitative", "axis": null},
        "x": {"datum": 9e-7, "type": "quantitative", "axis": null}
      }
    }
  ],
  "resolve": {"axis": {"x": "independent", "y": "independent"}}
}
